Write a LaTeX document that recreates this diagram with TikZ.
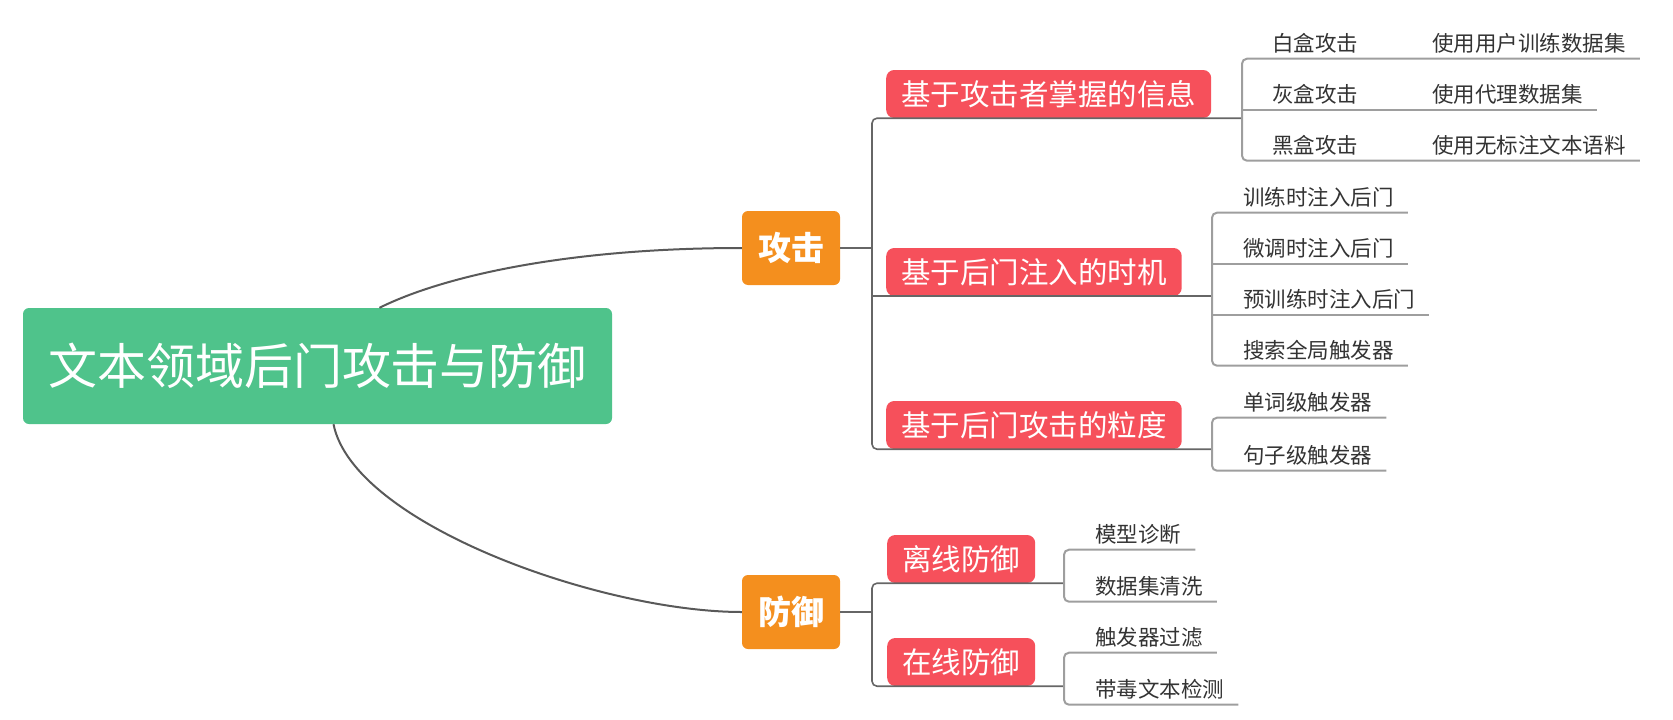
\documentclass[tikz,border=0pt]{standalone}
\usepackage{fontspec}
\setmainfont{Noto Sans CJK SC}
\usepackage{tikz}
\usetikzlibrary{calc}

\definecolor{rootgreen}{RGB}{79,195,139}
\definecolor{mainorange}{RGB}{244,143,30}
\definecolor{subred}{RGB}{246,80,91}

\begin{document}
\begin{tikzpicture}
        [
          x=1pt, y=-1pt,
          rootbox/.style={fill=rootgreen, text=white, rounded corners=6pt, inner sep=0pt,
            minimum width=589pt, minimum height=116pt, font=\fontsize{49}{49}\selectfont},
          mainbox/.style={fill=mainorange, text=white, rounded corners=6pt, inner sep=0pt,
            minimum width=98pt, minimum height=74pt, font=\bfseries\fontsize{33}{33}\selectfont},
          subbox/.style={fill=subred, text=white, rounded corners=8pt, anchor=west,
            inner xsep=15pt, inner ysep=0pt, minimum height=48pt, font=\fontsize{29.5}{29.5}\selectfont},
          leaf/.style={anchor=west, inner sep=0pt, minimum height=31pt, text=black!80,
            font=\fontsize{21.5}{21.5}\selectfont},
          trunk/.style={draw=black!65, line width=2pt},
          spine/.style={draw=black!60, line width=1.6pt, rounded corners=5pt},
          twig/.style={draw=black!38, line width=2pt, rounded corners=5pt}
        ]
        \useasboundingbox (0,0) rectangle (1673,720);
        % root and main topics
        \node [rootbox] (root) at (317.5,366) {文本领域后门攻击与防御};
        \node [mainbox] (atk) at (791,248) {攻击};
        \node [mainbox] (def) at (791,612) {防御};
        % fork columns
        \coordinate (atkfork) at (872,0);
        \coordinate (deffork) at (872,0);
        \coordinate (infofork) at (1242,0);
        \coordinate (timefork) at (1212,0);
        \coordinate (grainfork) at (1212,0);
        \coordinate (offfork) at (1064,0);
        \coordinate (onfork) at (1064,0);
        % sub topics
        \node [subbox] (info) at (886,94) {基于攻击者掌握的信息};
        \node [subbox] (timing) at (886,272) {基于后门注入的时机};
        \node [subbox] (grain) at (886,425) {基于后门攻击的粒度};
        \node [subbox] (offline) at (887,559) {离线防御};
        \node [subbox] (online) at (887,662) {在线防御};
        % leaves
        \foreach \name/\x/\y/\txt in {whitebox/1272/43/白盒攻击, whitedata/1432/43/使用用户训练数据集,
            graybox/1272/94/灰盒攻击, graydata/1432/94/使用代理数据集,
            blackbox/1272/145/黑盒攻击, blackdata/1432/145/使用无标注文本语料,
            train/1243/197/训练时注入后门, tune/1243/248/微调时注入后门,
            pretrain/1243/299/预训练时注入后门, search/1243/350/搜索全局触发器,
            word/1243/402/单词级触发器, sentence/1243/455/句子级触发器,
            diagnose/1095/534/模型诊断, clean/1095/586/数据集清洗,
            filter/1095/637/触发器过滤, detect/1095/689/带毒文本检测} {
            \node [leaf] (\name) at (\x,\y) {\txt};
        }
        % trunk edges
        \draw [trunk] ([xshift=62]root.north) .. controls +(60,-30) and +(-180,0) .. (atk.west);
        \draw [trunk] ([xshift=16]root.south) .. controls +(20,100) and +(-140,0) .. (def.west);
        % attack branches
        \draw [spine] (atk.east) -- (atkfork |- atk.east);
        \draw [spine] (infofork |- info.south) -- (atkfork |- info.south)
            -- (atkfork |- grain.south) -- (grainfork |- grain.south);
        \draw [spine] (atkfork |- timing.south) -- (timefork |- timing.south);
        % defense branches
        \draw [spine] (def.east) -- (deffork |- def.east);
        \draw [spine] (offfork |- offline.south) -- (deffork |- offline.south)
            -- (deffork |- online.south) -- (onfork |- online.south);
        % info leaves
        \draw [twig] ([xshift=14]whitedata.south east) -- (infofork |- whitedata.south)
            -- (infofork |- blackdata.south) -- ([xshift=14]blackdata.south east);
        \draw [twig] (infofork |- graydata.south) -- ([xshift=14]graydata.south east);
        % timing leaves
        \draw [twig] ([xshift=14]train.south east) -- (timefork |- train.south)
            -- (timefork |- search.south) -- ([xshift=14]search.south east);
        \draw [twig] (timefork |- tune.south) -- ([xshift=14]tune.south east);
        \draw [twig] (timefork |- pretrain.south) -- ([xshift=14]pretrain.south east);
        % grain leaves
        \draw [twig] ([xshift=14]word.south east) -- (grainfork |- word.south)
            -- (grainfork |- sentence.south) -- ([xshift=14]sentence.south east);
        % offline leaves
        \draw [twig] ([xshift=14]diagnose.south east) -- (offfork |- diagnose.south)
            -- (offfork |- clean.south) -- ([xshift=14]clean.south east);
        % online leaves
        \draw [twig] ([xshift=14]filter.south east) -- (onfork |- filter.south)
            -- (onfork |- detect.south) -- ([xshift=14]detect.south east);
        \end{tikzpicture}
\end{document}
